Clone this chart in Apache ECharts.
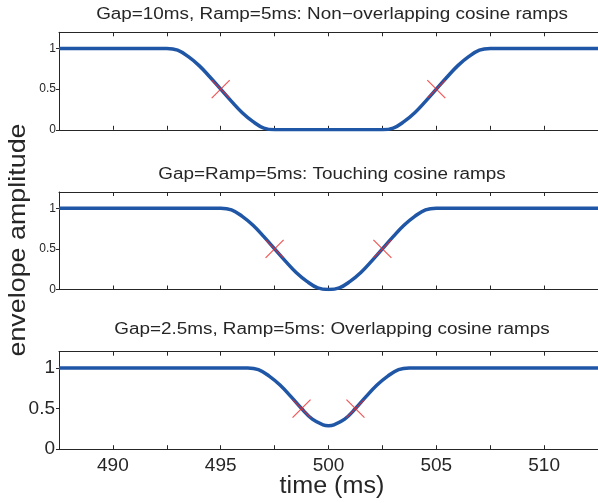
<!DOCTYPE html>
<html>
<head>
<meta charset="utf-8">
<script src="https://cdn.jsdelivr.net/npm/echarts@6/dist/echarts.min.js"></script>
<style>html,body{margin:0;padding:0;background:#fff}#c{width:598px;height:503px}</style>
</head>
<body>
<div id="c"></div>
<script>
// ---- data ----
var titles = [
  'Gap=10ms, Ramp=5ms: Non\u2212overlapping cosine ramps',
  'Gap=Ramp=5ms: Touching cosine ramps',
  'Gap=2.5ms, Ramp=5ms: Overlapping cosine ramps'
];
var yTickValues = [0, 0.5, 1];
var xLabelValues = [490, 495, 500, 505, 510];
var xTickValues = [487.5, 490, 492.5, 495, 497.5, 500, 502.5, 505, 507.5, 510, 512.5];

var time1 = [487.5, 492, 492.5, 493, 493.5, 494, 494.5, 495, 495.5, 496, 496.5, 497, 497.5, 498, 502, 502.5, 503, 503.5, 504, 504.5, 505, 505.5, 506, 506.5, 507, 507.5, 508, 512.5];
var env1  = [1, 1, 1, 0.98, 0.90, 0.79, 0.65, 0.5, 0.35, 0.21, 0.10, 0.02, 0, 0, 0, 0, 0.02, 0.10, 0.21, 0.35, 0.5, 0.65, 0.79, 0.90, 0.98, 1, 1, 1];
var cross1T = [495, 505];
var cross1V = [0.5, 0.5];

var time2 = [487.5, 494, 494.5, 495, 495.5, 496, 496.5, 497, 497.5, 498, 498.5, 499, 499.5, 500, 500.5, 501, 501.5, 502, 502.5, 503, 503.5, 504, 504.5, 505, 505.5, 506, 512.5];
var env2  = [1, 1, 1, 1, 0.98, 0.90, 0.79, 0.65, 0.5, 0.35, 0.21, 0.10, 0.02, 0, 0.02, 0.10, 0.21, 0.35, 0.5, 0.65, 0.79, 0.90, 0.98, 1, 1, 1, 1];
var cross2T = [497.5, 502.5];
var cross2V = [0.5, 0.5];

var time3 = [487.5, 495.25, 495.75, 496.25, 496.75, 497.25, 497.75, 498.25, 498.75, 499.25, 499.75, 500, 500.25, 500.75, 501.25, 501.75, 502.25, 502.75, 503.25, 503.75, 504.25, 504.75, 512.5];
var env3  = [1, 1, 1, 1, 0.98, 0.90, 0.79, 0.65, 0.5, 0.37, 0.30, 0.29, 0.30, 0.37, 0.5, 0.65, 0.79, 0.90, 0.98, 1, 1, 1, 1];
var cross3T = [498.75, 501.25];
var cross3V = [0.5, 0.5];

// ---- chart ----
var FONT = "'Liberation Sans', Arial, Helvetica, sans-serif";
var INK = '#262626';
var BLUE = '#1f56a6';
var RED = '#ee2a2a';

function zip(a, b) { return a.map(function (v, i) { return [v, b[i]]; }); }

var tops = [32.3, 192, 351.7];
var h = 97.5;
var grids = tops.map(function (t) {
  return { left: 59, right: -8, top: t, height: h, show: false };
});

var xAxes = [], yAxes = [];
for (var i = 0; i < 3; i++) {
  var bottomPanel = (i === 2);
  xAxes.push({
    type: 'value', gridIndex: i, min: 487.5, max: 512.5, position: 'bottom',
    axisLine: { show: true, onZero: false, lineStyle: { color: INK, width: 1 } },
    axisTick: { show: true, inside: true, length: 4, customValues: xTickValues, lineStyle: { color: INK } },
    axisLabel: { show: bottomPanel, customValues: xLabelValues, color: INK, fontSize: 19, fontFamily: FONT, margin: 7 },
    splitLine: { show: false }
  });
  xAxes.push({
    type: 'value', gridIndex: i, min: 487.5, max: 512.5, position: 'top',
    axisLine: { show: true, onZero: false, lineStyle: { color: INK, width: 1 } },
    axisTick: { show: true, inside: true, length: 4, customValues: xTickValues, lineStyle: { color: INK } },
    axisLabel: { show: false },
    splitLine: { show: false }
  });
  yAxes.push({
    type: 'value', gridIndex: i, min: 0, max: 1.2,
    axisLine: { show: true, onZero: false, lineStyle: { color: INK, width: 1 } },
    axisTick: { show: true, inside: false, length: 3, customValues: yTickValues, lineStyle: { color: INK } },
    axisLabel: { show: true, customValues: yTickValues, color: INK, fontSize: bottomPanel ? 19 : 12, fontFamily: FONT, margin: bottomPanel ? 4 : 3,
      formatter: function (v) { return String(v); } },
    splitLine: { show: false }
  });
}

function lineSeries(idx, t, v) {
  return {
    type: 'line', xAxisIndex: idx * 2, yAxisIndex: idx, data: zip(t, v),
    showSymbol: false, smooth: 0.4,
    lineStyle: { color: BLUE, width: 3.5 }, z: 2, silent: true, animation: false
  };
}
function crossSeries(idx, t, v) {
  return {
    type: 'scatter', xAxisIndex: idx * 2, yAxisIndex: idx, data: zip(t, v),
    symbol: 'path://M0,0L10,10M10,0L0,10', symbolSize: 18,
    itemStyle: { color: 'none', borderColor: RED, borderWidth: 1.2 },
    z: 3, silent: true, animation: false
  };
}

var titleY = [15, 174.5, 329.5];
var graphics = titles.map(function (tx, i) {
  return { type: 'text', x: 332, y: titleY[i], scaleX: 1.18, style: { text: tx, x: 0, y: 0, align: 'center', verticalAlign: 'middle', font: '16px ' + FONT, fill: INK } };
});
graphics.push({ type: 'text', x: 332, y: 487, scaleX: 1.07, style: { text: 'time (ms)', x: 0, y: 0, align: 'center', verticalAlign: 'middle', font: '23.5px ' + FONT, fill: INK } });
graphics.push({ type: 'text', x: 18, y: 240, rotation: Math.PI / 2, scaleX: 1.12, style: { text: 'envelope amplitude', x: 0, y: 0, align: 'center', verticalAlign: 'middle', font: '24px ' + FONT, fill: INK } });

var chart = echarts.init(document.getElementById('c'), null, { renderer: 'canvas' });
chart.setOption({
  animation: false,
  backgroundColor: '#fff',
  grid: grids,
  xAxis: xAxes,
  yAxis: yAxes,
  series: [
    lineSeries(0, time1, env1), crossSeries(0, cross1T, cross1V),
    lineSeries(1, time2, env2), crossSeries(1, cross2T, cross2V),
    lineSeries(2, time3, env3), crossSeries(2, cross3T, cross3V)
  ],
  graphic: graphics
});
</script>
</body>
</html>
